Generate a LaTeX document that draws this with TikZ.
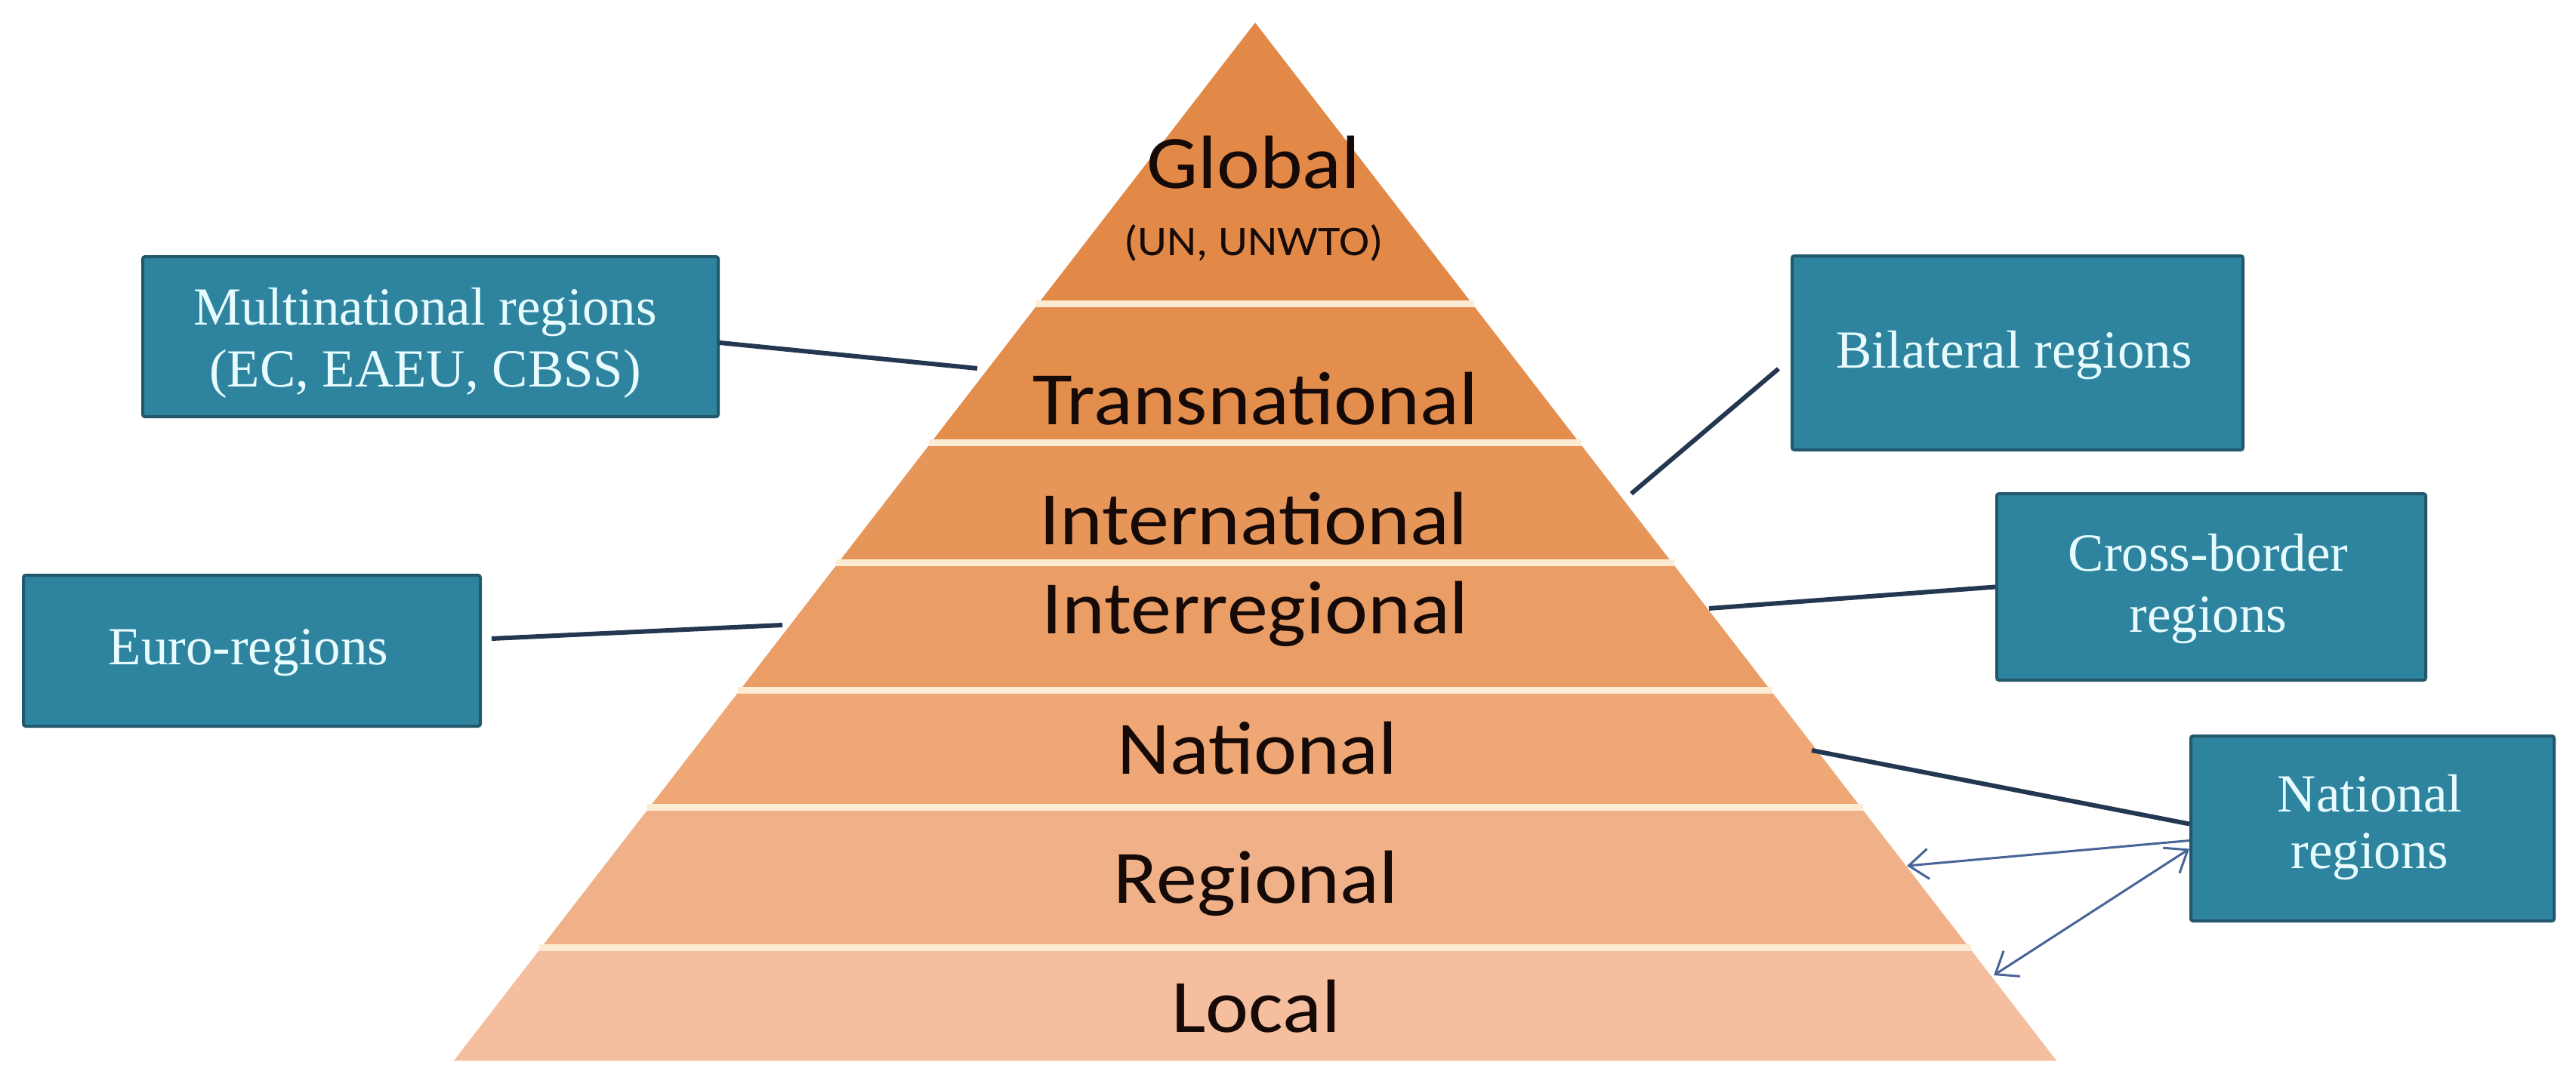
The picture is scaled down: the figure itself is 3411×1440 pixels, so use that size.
\documentclass[tikz,border=0pt]{standalone}
\usepackage{fontspec}
\usetikzlibrary{arrows.meta}
\newfontfamily\pyrfont{Carlito}[FakeStretch=1.08]
\newfontfamily\boxfont{Liberation Serif}
\definecolor{bandA}{RGB}{226,137,72}
\definecolor{bandB}{RGB}{228,142,78}
\definecolor{bandC}{RGB}{231,150,89}
\definecolor{bandD}{RGB}{234,158,102}
\definecolor{bandE}{RGB}{238,167,117}
\definecolor{bandF}{RGB}{241,177,136}
\definecolor{bandG}{RGB}{245,190,158}
\definecolor{sepcol}{RGB}{253,236,212}
\definecolor{boxfill}{RGB}{46,132,158}
\definecolor{boxline}{RGB}{35,88,108}
\definecolor{boxtext}{RGB}{232,252,255}
\definecolor{conncol}{RGB}{35,55,80}
\definecolor{arrcol}{RGB}{70,100,150}
\definecolor{pyrtext}{RGB}{22,10,8}
\newcommand\pyrband[3]{\fill[#3] ({1662-0.7716*(#1-30)},#1) -- ({1662+0.7716*(#1-30)},#1) -- ({1662+0.7716*(#2-30)},#2) -- ({1662-0.7716*(#2-30)},#2) -- cycle;}
\newcommand\pyrsep[1]{\draw[sepline] ({1662-0.7716*(#1-30)-3},#1) -- ({1662+0.7716*(#1-30)+3},#1);}
\tikzset{
  sepline/.style={draw=sepcol, line width=9pt},
  lbl/.style={font=\pyrfont\fontsize{100}{110}\selectfont, text=pyrtext, inner sep=0pt, anchor=base},
  sublbl/.style={font=\pyrfont\fontsize{56}{62}\selectfont, text=pyrtext, inner sep=0pt, anchor=base},
  tbox/.style={draw=boxline, fill=boxfill, line width=4pt, rounded corners=3pt, inner sep=0pt, anchor=north west},
  btxt/.style={font=\boxfont\fontsize{71}{80}\selectfont, text=boxtext, inner sep=0pt, anchor=base},
  conn/.style={draw=conncol, line width=6pt},
  thinarr/.style={draw=arrcol, line width=3pt}
}
\begin{document}
\begin{tikzpicture}[x=1pt,y=-1pt]
\useasboundingbox[fill=white] (0,0) rectangle (3411,1440);
% pyramid bands
\pyrband{30}{402}{bandA}
\pyrband{402}{586}{bandB}
\pyrband{586}{745}{bandC}
\pyrband{745}{914}{bandD}
\pyrband{914}{1069}{bandE}
\pyrband{1069}{1255}{bandF}
\pyrband{1255}{1405}{bandG}
\pyrsep{402}
\pyrsep{586}
\pyrsep{745}
\pyrsep{914}
\pyrsep{1069}
\pyrsep{1255}
% pyramid labels
\node[lbl] (global) at (1660,249) {Global};
\node[sublbl] (un) at (1660,338) {(UN, UNWTO)};
\node[lbl] (trans) at (1662,562) {Transnational};
\node[lbl] (intern) at (1660,721) {International};
\node[lbl] (interreg) at (1662,839) {Interregional};
\node[lbl] (nat) at (1665,1025) {National};
\node[lbl] (reg) at (1663,1196) {Regional};
\node[lbl] (loc) at (1663,1367) {Local};
% boxes
\node[tbox, minimum width=762pt, minimum height=212pt] (multi) at (187,338) {};
\node[tbox, minimum width=605pt, minimum height=200pt] (euro) at (29,760) {};
\node[tbox, minimum width=597pt, minimum height=257pt] (bilat) at (2371,337) {};
\node[tbox, minimum width=568pt, minimum height=247pt] (cross) at (2642,652) {};
\node[tbox, minimum width=481pt, minimum height=245pt] (natreg) at (2899,973) {};
% box texts
\node[btxt] (multiA) at (563,430) {Multinational regions};
\node[btxt] (multiB) at (563,512) {(EC, EAEU, CBSS)};
\node[btxt] (euroA) at (329,880) {Euro-regions};
\node[btxt] (bilatA) at (2667,487) {Bilateral regions};
\node[btxt] (crossA) at (2924,756) {Cross-border};
\node[btxt] (crossB) at (2924,837) {regions};
\node[btxt] (natregA) at (3138,1075) {National};
\node[btxt] (natregB) at (3138,1150) {regions};
% connector end points on the pyramid
\coordinate (pm) at (1294,488);
\coordinate (pe) at (1036,828);
\coordinate (pb) at (2160,654);
\coordinate (pc) at (2263,806);
\coordinate (pn) at (2399,994);
\coordinate (pr) at (2525,1147);
\coordinate (pl) at (2640,1292);
% connectors
\draw[conn] ([yshift=-8pt]multi.east) -- (pm);
\draw[conn] ([xshift=13pt,yshift=16pt]euro.east) -- (pe);
\draw[conn] ([xshift=-16pt,yshift=-21pt]bilat.west) -- (pb);
\draw[conn] (cross.west) -- (pc);
\draw[conn] ([yshift=6pt]natreg.west) -- (pn);
\draw[thinarr, -{Straight Barb[length=26pt,width=40pt]}] ([yshift=-16pt]natreg.west) -- (pr);
\draw[thinarr, {Straight Barb[length=26pt,width=40pt]}-{Straight Barb[length=26pt,width=40pt]}] ([yshift=-27pt]natreg.west) -- (pl);
\end{tikzpicture}
\end{document}
